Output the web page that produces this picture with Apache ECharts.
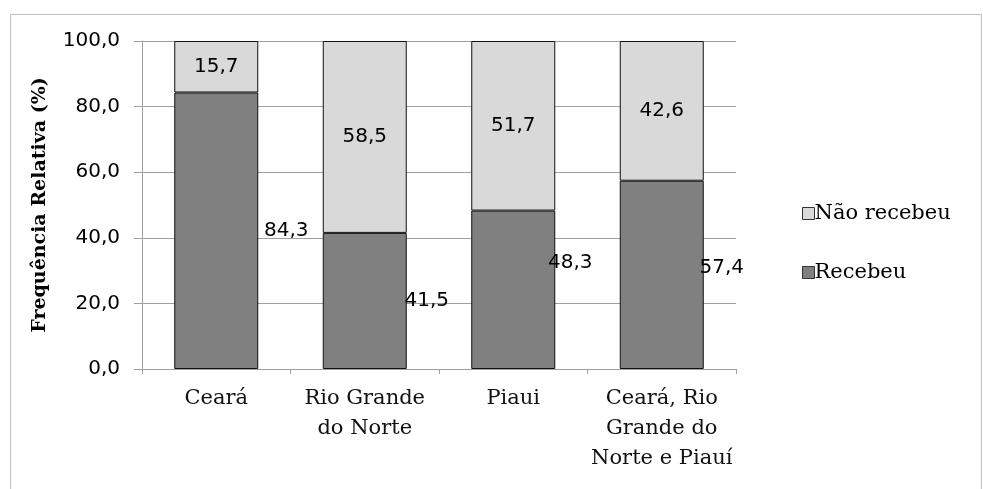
<!DOCTYPE html>
<html><head><meta charset="utf-8">
<script src="https://cdn.jsdelivr.net/npm/echarts@6/dist/echarts.min.js"></script>
<style>html,body{margin:0;padding:0;background:#fff}#c{width:983px;height:489px}</style>
</head><body><div id="c"></div>
<script>
const categories = ['Ceará', 'Rio Grande\ndo Norte', 'Piaui', 'Ceará, Rio\nGrande do\nNorte e Piauí'];
const recebeu = [84.3, 41.5, 48.3, 57.4];
const naoRecebeu = [15.7, 58.5, 51.7, 42.6];
const yTicks = [0, 20, 40, 60, 80, 100];

// Excel-style misplaced labels for the bottom series (pixel offsets from bar centre)
const recebeuLabelShift = [[70, 0], [62, 0], [57, -27], [60, -7]];

const fmt = v => Number(v).toFixed(1).replace('.', ',');
const chart = echarts.init(document.getElementById('c'), null, {renderer: 'canvas'});
chart.setOption({
  animation: false,
  backgroundColor: '#fff',
  graphic: [{type: 'rect', shape: {x: 10.5, y: 14.5, width: 971, height: 480}, style: {fill: 'none', stroke: '#c0c0c0', lineWidth: 1}}],
  grid: {left: 142, right: 247, top: 41, bottom: 120},
  legend: {
    orient: 'vertical', left: 797, top: 198, itemGap: 38, itemWidth: 12, itemHeight: 12, itemStyle: {borderColor: '#333', borderWidth: 1},
    data: ['Não recebeu', 'Recebeu'],
    textStyle: {fontFamily: 'DejaVu Serif', fontSize: 21, color: '#000', padding: [0, 0, 0, -5]},
    icon: 'rect'
  },
  xAxis: {
    type: 'category', data: categories,
    axisLine: {lineStyle: {color: '#a0a0a0'}},
    axisTick: {show: true, length: 5, lineStyle: {color: '#a0a0a0'}},
    axisLabel: {fontFamily: 'DejaVu Serif', fontSize: 21, color: '#111', lineHeight: 30, margin: 15, interval: 0}
  },
  yAxis: {
    type: 'value', min: yTicks[0], max: yTicks[yTicks.length - 1], interval: 20,
    name: 'Frequência Relativa (%)', nameLocation: 'middle', nameGap: 92, nameRotate: 90,
    nameTextStyle: {fontFamily: 'DejaVu Serif', fontWeight: 'bold', fontSize: 19, color: '#000'},
    axisLine: {show: true, lineStyle: {color: '#a0a0a0'}},
    axisTick: {show: true, length: 8, lineStyle: {color: '#a0a0a0'}},
    splitLine: {lineStyle: {color: '#a0a0a0'}},
    axisLabel: {formatter: v => fmt(v), fontFamily: 'DejaVu Sans', fontSize: 20, color: '#000', margin: 22}
  },
  series: [
    {
      name: 'Recebeu', type: 'bar', stack: 't', barWidth: 84,
      itemStyle: {color: '#808080', borderColor: '#111', borderWidth: 1},
      data: recebeu.map((v, i) => ({value: v, label: {offset: recebeuLabelShift[i]}})),
      label: {show: true, position: 'inside', formatter: p => fmt(p.value), fontFamily: 'DejaVu Sans', fontSize: 20, color: '#000'}
    },
    {
      name: 'Não recebeu', type: 'bar', stack: 't', barWidth: 84,
      itemStyle: {color: '#d9d9d9', borderColor: '#111', borderWidth: 1},
      data: naoRecebeu,
      label: {show: true, position: 'inside', formatter: p => fmt(p.value), fontFamily: 'DejaVu Sans', fontSize: 20, color: '#000'}
    }
  ]
});
</script></body></html>
